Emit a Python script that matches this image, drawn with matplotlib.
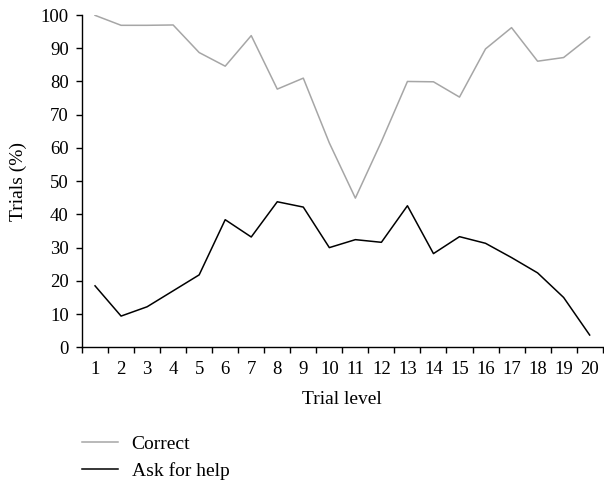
import numpy as np
import matplotlib
matplotlib.use("Agg")
import matplotlib.pyplot as plt

plt.rcParams['font.family'] = ['Liberation Serif', 'DejaVu Serif']

# trial levels 1..20
levels = list(range(1, 21))
correct = [99.9, 96.9, 96.9, 97.0, 88.7, 84.6, 93.8, 77.7, 81.0, 61.5,
           44.9, 61.9, 80.0, 79.9, 75.3, 89.8, 96.2, 86.1, 87.2, 93.4]
ask_help = [18.5, 9.4, 12.2, 17.0, 21.8, 38.4, 33.2, 43.8, 42.2, 30.0,
            32.4, 31.6, 42.6, 28.2, 33.3, 31.3, 27.0, 22.4, 15.0, 3.7]
yticks = list(range(0, 101, 10))

fig = plt.figure(figsize=(6.04, 4.84), dpi=100)
ax = fig.add_axes([0.1358, 0.2824, 0.862, 0.6866])

ax.plot(levels, correct, color='#a6a6a6', lw=1.1, label='Correct')
ax.plot(levels, ask_help, color='black', lw=1.1, label='Ask for help')

ax.set_xlim(0.5, 20.5)
ax.set_ylim(0, 100)
ax.set_xticks(np.arange(0.5, 21, 1))
ax.set_xticklabels([])
ax.set_xticks(levels, minor=True)
ax.set_xticklabels([str(v) for v in levels], minor=True)
ax.tick_params(axis='x', which='minor', length=0, labelsize=13.5, pad=10)
ax.tick_params(axis='x', which='major', length=4.5, width=1)
ax.set_yticks(yticks)
ax.tick_params(axis='y', length=4.5, width=1, labelsize=13.5, pad=5)

for s in ['top', 'right']:
    ax.spines[s].set_visible(False)
for s in ['left', 'bottom']:
    ax.spines[s].set_linewidth(1)

ax.set_xlabel('Trial level', fontsize=14, labelpad=9)
ax.set_ylabel('Trials (%)', fontsize=14, labelpad=10)

fig.legend(loc='upper left', bbox_to_anchor=(0.136, 0.1), frameon=False,
           fontsize=14, handlelength=1.85, handletextpad=0.7, labelspacing=0.45,
           borderaxespad=0, borderpad=0)

fig.savefig('out.png', dpi=100)
